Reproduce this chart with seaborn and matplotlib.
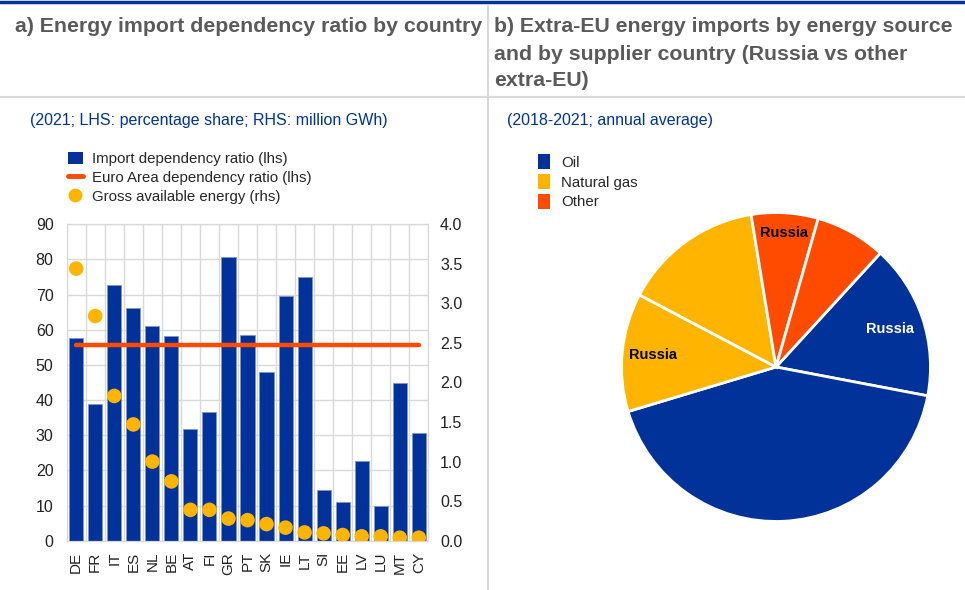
import numpy as np
import pandas as pd
import matplotlib
matplotlib.use("Agg")
import matplotlib.pyplot as plt
from matplotlib.lines import Line2D
from matplotlib.patches import Patch
import seaborn as sns

# ---- data ----
countries = ["DE", "FR", "IT", "ES", "NL", "BE", "AT", "FI", "GR", "PT",
             "SK", "IE", "LT", "SI", "EE", "LV", "LU", "MT", "CY"]
dependency = [57.7, 38.9, 72.6, 66.2, 61.1, 58.1, 31.7, 36.5, 80.7, 58.5,
              47.9, 69.7, 75.1, 14.3, 10.9, 22.8, 10.0, 44.9, 30.5]
gross_energy = [3.44, 2.84, 1.83, 1.47, 1.00, 0.75, 0.39, 0.39, 0.28, 0.26,
                0.21, 0.165, 0.105, 0.093, 0.072, 0.055, 0.055, 0.038, 0.038]
euro_area_ratio = 55.8

pie_labels = ["Russia", "", "Russia", "", "Russia", ""]
pie_source = ["Oil", "Oil", "Natural gas", "Natural gas", "Other", "Other"]
pie_shares = [16.2, 42.4, 12.4, 14.7, 7.0, 7.4]

BLUE = "#003299"
YELLOW = "#FFB400"
ORANGE = "#FF4B00"
GRID = "#d9d9d9"
GREY_TXT = "#5a5a5a"

sns.set_style("white")
plt.rcParams["font.family"] = ["Liberation Sans", "DejaVu Sans"]

fig = plt.figure(figsize=(9.65, 5.9), dpi=100)

# ---- frame lines and titles ----
fig.add_artist(Line2D([0, 1], [0.997, 0.997], color=BLUE, lw=2.5))
fig.add_artist(Line2D([0, 1], [1 - 97 / 590, 1 - 97 / 590], color=GRID, lw=1.5))
fig.add_artist(Line2D([487.5 / 965, 487.5 / 965], [0, 0.99], color=GRID, lw=1.5))

fig.text(15 / 965, 1 - 27 / 590, "a) Energy import dependency ratio by country",
         fontsize=15.3, fontweight="bold", color=GREY_TXT, va="center")
title_b = ["b) Extra-EU energy imports by energy source",
           "and by supplier country (Russia vs other",
           "extra-EU)"]
for i, line in enumerate(title_b):
    fig.text(494 / 965, 1 - (27 + 27 * i) / 590, line, fontsize=15.3,
             fontweight="bold", color=GREY_TXT, va="center")
fig.text(30 / 965, 1 - 120 / 590, "(2021; LHS: percentage share; RHS: million GWh)",
         fontsize=11.5, color=BLUE, va="center")
fig.text(507 / 965, 1 - 120 / 590, "(2018-2021; annual average)",
         fontsize=11.5, color=BLUE, va="center")

# ---- panel a ----
df = pd.DataFrame({"country": countries, "dependency": dependency,
                   "gross": gross_energy})
df["pos"] = np.arange(len(df))

ax = fig.add_axes([66.7 / 965, 1 - 540.7 / 590, 361.6 / 965, 316.4 / 590])
sns.barplot(data=df, x="country", y="dependency", color=BLUE, width=0.74,
            edgecolor="#7f95cc", linewidth=0.6, saturation=1, ax=ax, zorder=2)
ax.plot(df["pos"], [euro_area_ratio] * len(df), color=ORANGE, lw=3.2,
        solid_capstyle="round", zorder=3)
ax.set_ylim(0, 90)
ax.set_xlim(-0.5, len(df) - 0.5)
ax.set_yticks(np.arange(0, 91, 10))
ax.set_xticks(df["pos"])
ax.set_xticklabels(countries, rotation=90)
ax.set_xticks(np.arange(-0.5, len(df), 1), minor=True)
ax.grid(axis="y", color=GRID, lw=1, zorder=0)
ax.grid(axis="x", which="minor", color=GRID, lw=1, zorder=0)
ax.set_axisbelow(True)
ax.set_xlabel("")
ax.set_ylabel("")
for s in ax.spines.values():
    s.set_color(GRID)
ax.tick_params(axis="y", length=0, labelsize=11.5, colors="#222222", pad=9.5)
ax.tick_params(axis="x", length=0, labelsize=11, colors="#222222", pad=8)
ax.tick_params(axis="x", which="minor", length=0)

ax2 = ax.twinx()
sns.scatterplot(data=df, x="pos", y="gross", color=YELLOW, s=110,
                edgecolor="none", ax=ax2, zorder=4)
ax2.set_ylim(0, 4.0)
ax2.set_yticks(np.arange(0, 4.01, 0.5))
ax2.set_yticklabels([f"{v:.1f}" for v in np.arange(0, 4.01, 0.5)])
ax2.set_xlim(-0.5, len(df) - 0.5)
ax2.set_ylabel("")
ax2.set_xlabel("")
for s in ax2.spines.values():
    s.set_color(GRID)
ax2.tick_params(axis="y", length=0, labelsize=11.5, colors="#222222", pad=8.5)

leg_handles = [
    Patch(facecolor=BLUE, edgecolor="none"),
    Line2D([0], [0], color=ORANGE, lw=3.5),
    Line2D([0], [0], marker="o", color="none", markerfacecolor=YELLOW,
           markeredgecolor="none", markersize=10),
]
fig.legend(leg_handles,
           ["Import dependency ratio (lhs)", "Euro Area dependency ratio (lhs)",
            "Gross available energy (rhs)"],
           loc="upper left", bbox_to_anchor=(60 / 965, 1 - 144 / 590),
           frameon=False, fontsize=10.8, handlelength=1.0, handleheight=0.9,
           handletextpad=0.6, labelspacing=0.3, borderpad=0)

# ---- panel b ----
pax = fig.add_axes([(776 - 156) / 965, 1 - (367 + 156) / 590, 312 / 965, 312 / 590])
colors = {"Oil": BLUE, "Natural gas": YELLOW, "Other": ORANGE}
wedges, _ = pax.pie(pie_shares, colors=[colors[s] for s in pie_source],
                    startangle=47.5, counterclock=False, radius=1,
                    wedgeprops=dict(edgecolor="white", linewidth=2))
pax.set_xlim(-1.01, 1.01)
pax.set_ylim(-1.01, 1.01)
pax.set_aspect("equal")
pax.axis("off")

total = sum(pie_shares)
label_r = [0.78, 0, 0.80, 0, 0.87, 0]
cum = 0
for lab, v, src, r in zip(pie_labels, pie_shares, pie_source, label_r):
    mid = np.deg2rad(47.5 - (cum + v / 2) / total * 360)
    cum += v
    if lab:
        pax.text(r * np.cos(mid), r * np.sin(mid), lab, ha="center", va="center",
                 fontsize=10.5, fontweight="bold",
                 color="white" if src == "Oil" else "black")

pie_handles = [Patch(facecolor=colors[k], edgecolor="none")
               for k in ["Oil", "Natural gas", "Other"]]
fig.legend(pie_handles, ["Oil", "Natural gas", "Other"], loc="upper left",
           bbox_to_anchor=(530 / 965, 1 - 147 / 590), frameon=False,
           fontsize=10.8, handlelength=0.85, handleheight=1.1,
           handletextpad=0.7, labelspacing=0.3, borderpad=0)

fig.savefig("out.png", dpi=100)
